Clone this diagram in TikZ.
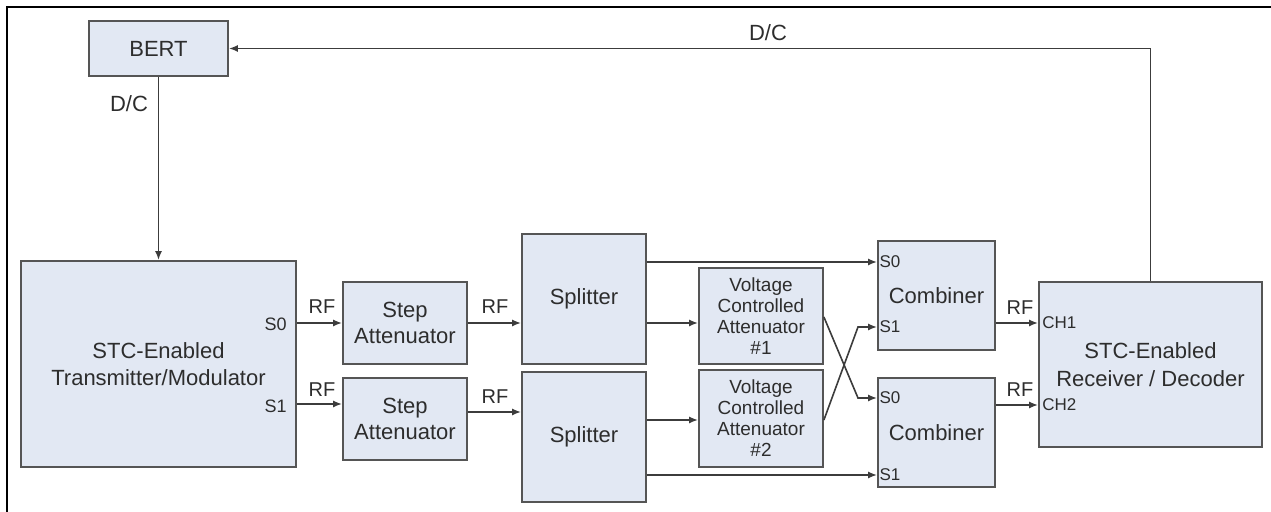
\documentclass[tikz,border=0pt]{standalone}
\usepackage{fontspec}
\setmainfont{Liberation Sans}
\usepackage{tikz}
\usetikzlibrary{arrows.meta}
\definecolor{boxfill}{RGB}{226,232,243}
\definecolor{boxline}{RGB}{85,85,85}
\definecolor{txtgray}{RGB}{45,45,45}

\tikzset{
  block/.style={draw=boxline, fill=boxfill, line width=0.9pt, align=center,
    inner sep=0pt, text=txtgray, font=\fontsize{11}{13.5}\selectfont},
  arr/.style={-{Latex[length=4.5pt,width=3.5pt]}, line width=0.8pt, draw=boxline!70!black},
  sig/.style={text=txtgray, font=\fontsize{10}{12}\selectfont, inner sep=0pt},
  port/.style={text=txtgray, font=\fontsize{8.5}{10}\selectfont, inner sep=0pt},
}

\begin{document}
\begin{tikzpicture}[x=0.5pt, y=-0.5pt]
    \useasboundingbox (0,0) rectangle (1271,512);
    % Frame
    \draw[line width=0.8pt] (7,512) -- (7,7) -- (1271,7);

    % Blocks
    \node[block, minimum width=69.5pt, minimum height=27.5pt] (bert) at (158.5,48.5) {BERT};
    \node[block, minimum width=137.5pt, minimum height=103pt] (tx) at (158.5,364) {STC-Enabled\\Transmitter/Modulator};
    \node[block, minimum width=62pt, minimum height=41pt, font=\fontsize{11}{13}\selectfont] (att1) at (405,323) {Step\\Attenuator};
    \node[block, minimum width=62pt, minimum height=41pt, font=\fontsize{11}{13}\selectfont] (att2) at (405,419) {Step\\Attenuator};
    \node[block, minimum width=62pt, minimum height=65pt] (spl1) at (584,299) {Splitter};
    \node[block, minimum width=62pt, minimum height=65pt] (spl2) at (584,437) {Splitter};
    \node[block, minimum width=62pt, minimum height=48pt, font=\fontsize{9.5}{10.5}\selectfont] (vca1) at (761,316) {Voltage\\Controlled\\Attenuator\\\#1};
    \node[block, minimum width=62pt, minimum height=48.5pt, font=\fontsize{9.5}{10.5}\selectfont] (vca2) at (761,418.5) {Voltage\\Controlled\\Attenuator\\\#2};
    \node[block, minimum width=58.5pt, minimum height=54.5pt] (comb1) at (936.5,295.5) {Combiner};
    \node[block, minimum width=58.5pt, minimum height=54.5pt] (comb2) at (936.5,432.5) {Combiner};
    \node[block, minimum width=111.5pt, minimum height=82.5pt, font=\fontsize{11}{14}\selectfont] (rx) at (1150.5,364.5) {STC-Enabled\\Receiver / Decoder};

    % D/C feedback and control
    \draw[arr] (rx.north) |- (bert.east);
    \node[sig, font=\fontsize{11}{13}\selectfont] at (768,33) {D/C};
    \draw[arr] (bert.south) -- (tx.north);
    \node[sig, font=\fontsize{11}{13}\selectfont] at (129,104) {D/C};

    % Transmitter outputs
    \node[port, font=\fontsize{9}{11}\selectfont, anchor=east] at (287,324) {S0};
    \node[port, font=\fontsize{9}{11}\selectfont, anchor=east] at (287,406) {S1};
    \draw[arr] (att1.west -| tx.east) -- (att1.west);
    \node[sig] at (322,307) {RF};
    \coordinate (s1in) at ([yshift=7.5pt]att2.west);
    \draw[arr] (s1in -| tx.east) -- (s1in);
    \node[sig] at (322,390) {RF};

    % Step attenuators to splitters
    \draw[arr] (att1.east) -- (att1.east -| spl1.west);
    \node[sig] at (495,307) {RF};
    \coordinate (a2out) at ([yshift=3.5pt]att2.east);
    \draw[arr] (a2out) -- (a2out -| spl2.west);
    \node[sig] at (495,397) {RF};

    % Splitters to VCAs and combiners
    \coordinate (c1s0) at (comb1.west |- 0,262);
    \coordinate (c1s1) at (comb1.west |- 0,327);
    \coordinate (c2s0) at (comb2.west |- 0,398);
    \coordinate (c2s1) at (comb2.west |- 0,475);
    \draw[arr] (c1s0 -| spl1.east) -- (c1s0);
    \draw[arr] (spl1.east |- 0,323) -- (vca1.west |- 0,323);
    \draw[arr] (spl2.east |- 0,420) -- (vca2.west |- 0,420);
    \draw[arr] (c2s1 -| spl2.east) -- (c2s1);

    % Crossed VCA outputs
    \draw[arr] (vca1.east |- 0,317) -- (858,398) -- (c2s0);
    \draw[arr] (vca2.east |- 0,420) -- (858,327) -- (c1s1);

    % Combiner inputs
    \node[port, anchor=west] at ([xshift=1pt]c1s0) {S0};
    \node[port, anchor=west] at ([xshift=1pt]c1s1) {S1};
    \node[port, anchor=west] at ([xshift=1pt]c2s0) {S0};
    \node[port, anchor=west] at ([xshift=1pt]c2s1) {S1};

    % Combiners to receiver
    \draw[arr] (comb1.east |- 0,323) -- (rx.west |- 0,323);
    \node[sig] at (1020,308) {RF};
    \draw[arr] (comb2.east |- 0,405) -- (rx.west |- 0,405);
    \node[sig] at (1020,390) {RF};
    \node[port, anchor=west] at (1042,323) {CH1};
    \node[port, anchor=west] at (1042,405) {CH2};
\end{tikzpicture}
\end{document}
